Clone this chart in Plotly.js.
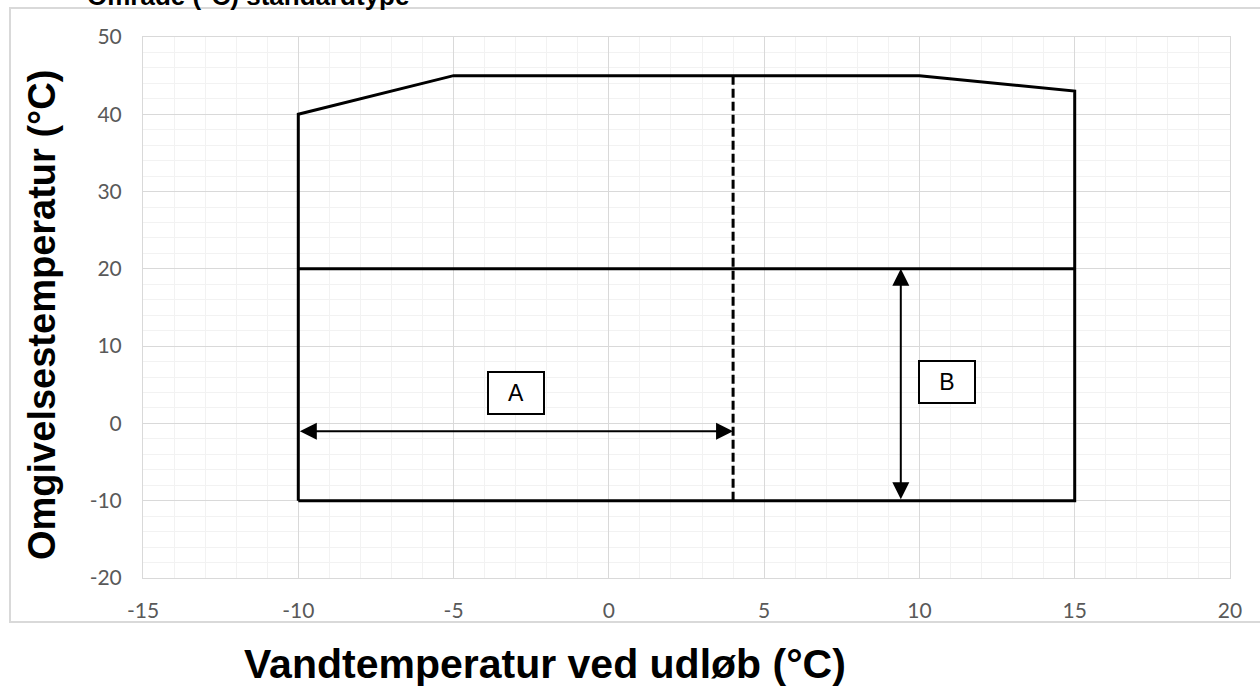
<!DOCTYPE html>
<html><head><meta charset="utf-8">
<script src="https://cdn.plot.ly/plotly-3.0.1.min.js"></script>
<style>html,body{margin:0;padding:0;background:#fff;}#chart{width:1260px;height:686px;}</style>
</head><body><div id="chart"></div>
<script>
// Operating envelope
const envelopeX = [-10, -10, -5, 10, 15, 15, -10];
const envelopeY = [-10, 40, 45, 45, 43, -10, -10];
// Horizontal divider
const dividerX = [-10, 15];
const dividerY = [20, 20];
// Dashed vertical limit
const dashX = [4, 4];
const dashY = [-10, 45];
// Dimension arrows
const arrowA = {x0: 4, y0: -1, x1: -10, y1: -1};
const arrowB = {x0: 9.4, y0: -10, x1: 9.4, y1: 20};
// Labels
const labelText = ["A", "B"];
const labelX = [-3, 10.9];
const labelY = [4, 5.4];
const xTicks = [-15, -10, -5, 0, 5, 10, 15, 20];
const xTickText = ["-15", "-10", "-5", "0", "5", "10", "15", "20"];
const yTicks = [-20, -10, 0, 10, 20, 30, 40, 50];
const yTickText = ["-20", "-10", "0", "10", "20", "30", "40", "50"];
const titleText = "Område (°C) standardtype";
const xTitle = "Vandtemperatur ved udløb (°C)";
const yTitle = "Omgivelsestemperatur (°C)";

const line = {color: '#000', width: 3};
const traces = [
  {x: envelopeX, y: envelopeY, mode: 'lines', line: line, hoverinfo: 'skip'},
  {x: dividerX, y: dividerY, mode: 'lines', line: line, hoverinfo: 'skip'},
  {x: dashX, y: dashY, mode: 'lines', line: {color: '#000', width: 3, dash: '9px,4px'}, hoverinfo: 'skip'}
];

const tickFont = {family: 'Lato, "Open Sans", sans-serif', size: 21, color: '#595959'};
const axisCommon = {
  showline: true, mirror: true, linecolor: '#d9d9d9', linewidth: 1,
  gridcolor: '#d9d9d9', gridwidth: 1, zeroline: false, ticks: '',
  tickfont: tickFont, fixedrange: true
};
const boldFont = (s) => ({family: '"Liberation Sans", Arial, sans-serif', size: s, color: '#000', weight: 'bold'});

const annotations = [
  {x: arrowA.x0, y: arrowA.y0, ax: arrowA.x1, ay: arrowA.y1, xref: 'x', yref: 'y', axref: 'x', ayref: 'y',
   showarrow: true, arrowside: 'end+start', arrowhead: 2, arrowsize: 1.7, arrowwidth: 2, arrowcolor: '#000', text: ''},
  {x: arrowB.x1, y: arrowB.y1, ax: arrowB.x0, ay: arrowB.y0, xref: 'x', yref: 'y', axref: 'x', ayref: 'y',
   showarrow: true, arrowside: 'end+start', arrowhead: 2, arrowsize: 1.7, arrowwidth: 2, arrowcolor: '#000', text: ''},
  {text: xTitle, xref: 'paper', yref: 'paper', x: (545-143)/1087, y: (578-664)/541, xanchor: 'center', yanchor: 'middle',
   showarrow: false, font: boldFont(41)},
  {text: yTitle, xref: 'paper', yref: 'paper', x: (42-143)/1087, y: (578-315)/541, xanchor: 'center', yanchor: 'middle',
   textangle: -90, showarrow: false, font: boldFont(38)},
  {text: titleText, xref: 'paper', yref: 'paper', x: (85-143)/1087, y: (578-13)/541, xanchor: 'left', yanchor: 'bottom',
   showarrow: false, font: boldFont(26)}
];
labelText.forEach((t, i) => annotations.push({
  text: t, x: labelX[i], y: labelY[i], xref: 'x', yref: 'y', showarrow: false,
  font: {family: '"Liberation Sans", Arial, sans-serif', size: 23, color: '#000'},
  bordercolor: '#000', borderwidth: 2, bgcolor: '#fff', width: 52, height: 38, borderpad: 1
}));

const layout = {
  width: 1260, height: 686,
  margin: {l: 143, r: 30, t: 37, b: 108},
  paper_bgcolor: '#fff', plot_bgcolor: '#fff',
  showlegend: false,
  xaxis: Object.assign({}, axisCommon, {range: [-15, 20], tickvals: xTicks, ticktext: xTickText, ticklabelstandoff: 14,
    minor: {dtick: 1, showgrid: true, gridcolor: '#f2f2f2', gridwidth: 1, ticks: ''}}),
  yaxis: Object.assign({}, axisCommon, {range: [-20, 50], tickvals: yTicks, ticktext: yTickText, ticklabelstandoff: 16,
    minor: {dtick: 2, showgrid: true, gridcolor: '#f2f2f2', gridwidth: 1, ticks: ''}}),
  shapes: [
    {type: 'rect', xref: 'paper', yref: 'paper', x0: (10-143)/1087, x1: 1.06, y0: (578-622)/541, y1: (578-8)/541,
     line: {color: '#d9d9d9', width: 2}, layer: 'below'}
  ],
  annotations: annotations
};

Plotly.newPlot('chart', traces, layout, {staticPlot: true, displayModeBar: false});
</script></body></html>
